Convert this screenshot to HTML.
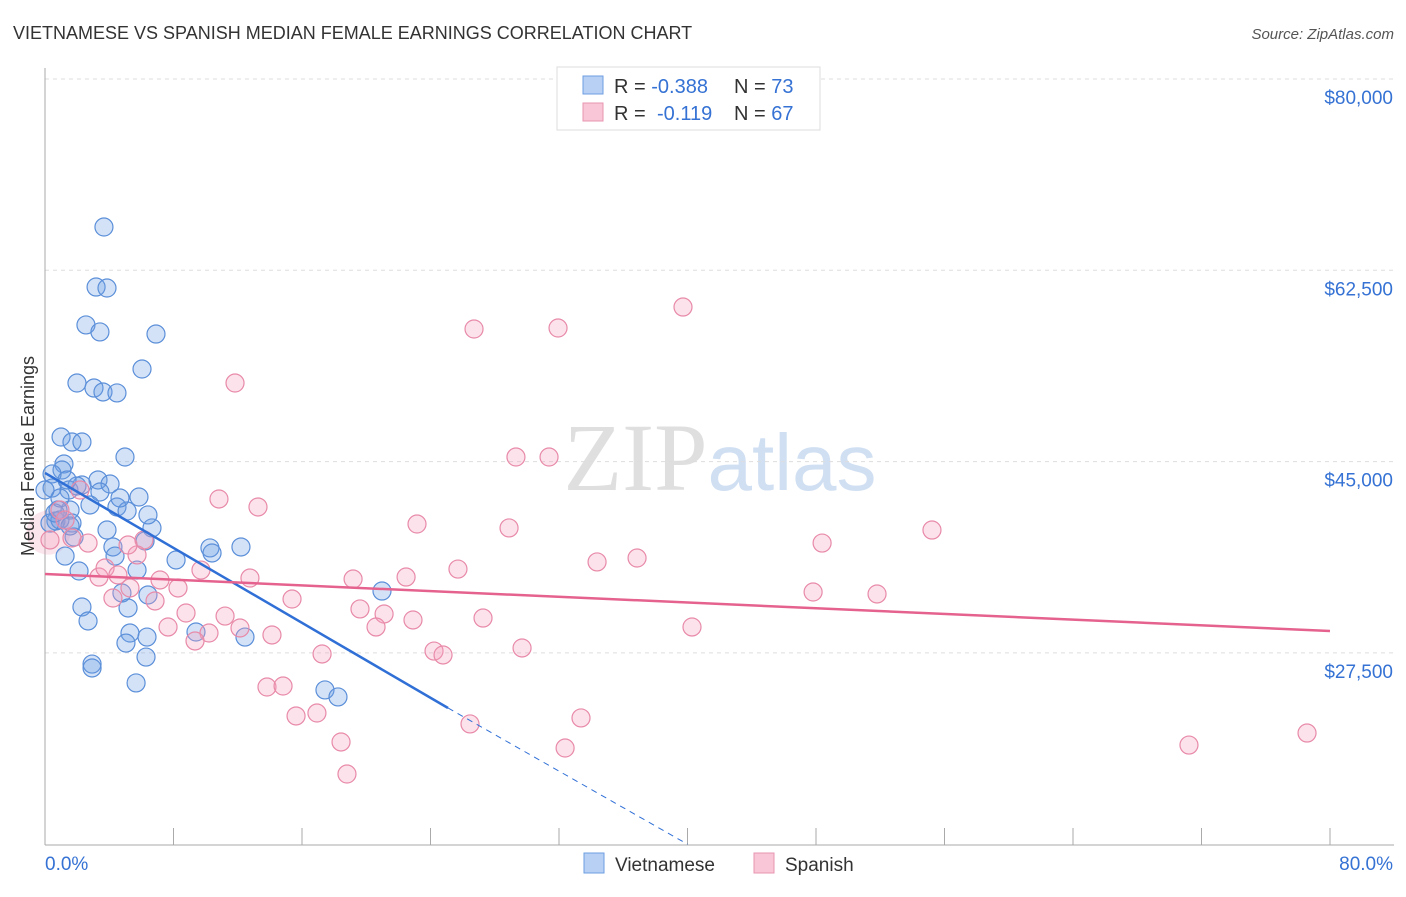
<!DOCTYPE html>
<html><head><meta charset="utf-8"><style>
body{margin:0;background:#fff;font-family:"Liberation Sans",sans-serif;}
svg text{font-family:"Liberation Sans",sans-serif;}
</style></head><body>
<svg id="chart" width="1406" height="892" viewBox="0 0 1406 892" xmlns="http://www.w3.org/2000/svg">
<text x="13" y="39" font-size="18" fill="#333">VIETNAMESE VS SPANISH MEDIAN FEMALE EARNINGS CORRELATION CHART</text>
<text x="1394" y="39" font-size="15" fill="#555" font-style="italic" text-anchor="end">Source: ZipAtlas.com</text>
<text x="720" y="490" font-size="96" text-anchor="middle" fill="#ddd" opacity="0.8"><tspan font-family="Liberation Serif" fill="#d8d8d8">ZIP</tspan><tspan fill="#c5d8f0" font-size="80">atlas</tspan></text>
<g id="grid"></g>
<g id="axes"></g>
<g id="pts"></g>
<g id="trends"></g>
<text transform="translate(34,456) rotate(-90)" font-size="18" fill="#333" text-anchor="middle">Median Female Earnings</text>
<g>
<rect x="557" y="67" width="263" height="63" fill="#fff" stroke="#ddd"/>
<rect x="583" y="76" width="20" height="18" fill="#b8d0f4" stroke="#6d9ee0"/>
<rect x="583" y="103" width="20" height="18" fill="#f8c6d6" stroke="#e895b0"/>
<text x="614" y="93" font-size="20" fill="#333">R = <tspan fill="#3572d4">-0.388</tspan><tspan x="734">N = </tspan><tspan fill="#3572d4">73</tspan></text>
<text x="614" y="120" font-size="20" fill="#333">R = <tspan x="657" fill="#3572d4">-0.119</tspan><tspan x="734">N = </tspan><tspan fill="#3572d4">67</tspan></text>
</g>
<g>
<rect x="584" y="853" width="20" height="20" fill="#b8d0f4" stroke="#6d9ee0"/>
<text x="615" y="871" font-size="19" fill="#333">Vietnamese</text>
<rect x="754" y="853" width="20" height="20" fill="#f8c6d6" stroke="#e895b0"/>
<text x="785" y="871" font-size="19" fill="#333">Spanish</text>
</g>
</svg>
<script>
const yTicks=[27500,45000,62500,80000];
const yTickLabels=["$27,500","$45,000","$62,500","$80,000"];
const xEndLabels=["0.0%","80.0%"];
const vietX=[3.67,3.18,3.86,2.55,3.42,6.91,6.04,1.99,3.05,3.61,4.48,1.00,1.68,2.30,4.98,1.18,1.06,0.44,3.30,4.05,1.49,2.30,1.99,5.85,0.44,3.42,2.80,4.48,5.11,1.56,0.81,0.68,1.68,6.66,1.25,1.81,4.23,6.23,10.27,12.20,10.40,8.16,4.36,2.12,5.73,20.98,6.41,4.79,2.30,5.17,2.68,5.29,9.40,6.35,5.04,12.45,6.29,2.93,2.93,5.67,17.43,18.24,0.93,0.31,0.62,0.93,0.0,1.37,1.56,4.67,6.41,3.86];
const vietY=[66.46,60.97,60.88,57.50,56.86,56.67,53.47,52.19,51.73,51.37,51.28,47.25,46.79,46.79,45.42,44.78,44.23,43.87,43.32,42.95,42.40,42.86,42.77,41.76,42.58,42.22,41.03,40.85,40.48,40.57,40.57,39.57,39.38,38.93,36.36,38.10,37.19,37.74,37.10,37.19,36.64,36.00,36.36,34.99,35.08,33.16,32.80,32.98,31.70,31.61,30.42,29.32,29.41,28.95,28.40,28.95,27.12,26.48,26.12,24.75,24.11,23.47,39.66,39.38,40.30,41.67,42.40,43.32,39.11,41.67,40.12,38.74];
const spanX=[39.72,26.71,31.94,11.83,29.32,31.38,10.83,13.26,23.16,28.89,55.22,48.38,34.37,36.86,6.16,5.73,2.68,25.71,22.48,19.18,12.76,7.16,8.28,9.71,3.36,5.29,4.23,6.85,15.38,47.82,51.80,19.61,21.11,8.78,11.21,22.91,27.27,7.66,20.61,10.21,14.13,12.14,40.28,9.34,17.25,24.22,24.78,29.70,13.82,14.82,15.63,16.93,26.46,33.37,18.43,32.38,18.80,71.22,78.57,0.93,0.31,1.68,3.74,4.54,5.17,2.18,1.25];
const spanY=[59.14,57.13,57.22,52.19,45.42,45.42,41.58,40.85,39.29,38.93,38.74,37.55,35.82,36.18,37.83,36.46,37.55,35.17,34.44,34.26,34.35,34.17,33.44,35.08,34.44,33.44,32.52,32.25,32.43,33.07,32.89,31.52,31.06,31.15,30.87,30.51,30.69,29.87,29.87,29.32,29.14,29.78,29.87,28.59,27.40,27.67,27.31,27.95,24.38,24.47,21.73,22.00,21.00,21.55,19.35,18.80,16.42,19.07,20.17,40.57,37.83,38.01,35.27,34.63,37.37,42.40,39.66];
const vietTrend=[0,43.96,25.09,22.46,40,10.0];
const spanTrend=[0,34.72,80,29.50];
const NS="http://www.w3.org/2000/svg";
const X=p=>45+p/80*1285;
const Y=v=>79+(80-v)/17.5*191.3;
function mk(tag,attrs,parent){const e=document.createElementNS(NS,tag);for(const k in attrs)e.setAttribute(k,attrs[k]);parent.appendChild(e);return e;}
const grid=document.getElementById('grid'),axes=document.getElementById('axes'),pts=document.getElementById('pts'),tr=document.getElementById('trends');
yTicks.forEach((t,i)=>{const y=Y(t/1000);
const l=mk('line',{x1:45,x2:1394,y1:y,y2:y,stroke:'#ddd','stroke-dasharray':'4,4'},grid);


const tx=mk('text',{x:1393,y:y+25,'font-size':19,fill:'#3572d4','text-anchor':'end'},axes);
tx.textContent=yTickLabels[i];

});
const ya=mk('line',{x1:45,x2:45,y1:68,y2:845,stroke:'#aaa'},axes);


const xa=mk('line',{x1:45,x2:1394,y1:845,y2:845,stroke:'#aaa'},axes);


for(let p=8;p<=80;p+=8){const t=mk('line',{x1:X(p),x2:X(p),y1:828,y2:845,stroke:'#aaa'},axes);

}
const xl0=mk('text',{x:45,y:870,'font-size':19,fill:'#3572d4'},axes);xl0.textContent=xEndLabels[0];


const xl1=mk('text',{x:1393,y:870,'font-size':19,fill:'#3572d4','text-anchor':'end'},axes);xl1.textContent=xEndLabels[1];


const big=mk('circle',{cx:X(0.2),cy:Y(38.5),r:22,fill:'rgba(240,150,180,0.25)',stroke:'none'},pts);


vietX.forEach((x,i)=>{const c=mk('circle',{cx:X(x),cy:Y(vietY[i]),r:9,fill:'rgba(110,160,230,0.3)',stroke:'#5b8fd9','stroke-width':1.2},pts);

});
spanX.forEach((x,i)=>{const c=mk('circle',{cx:X(x),cy:Y(spanY[i]),r:9,fill:'rgba(245,160,190,0.3)',stroke:'#e88aa8','stroke-width':1.2},pts);

});
const vt=mk('line',{x1:X(vietTrend[0]),y1:Y(vietTrend[1]),x2:X(vietTrend[2]),y2:Y(vietTrend[3]),stroke:'#2f6fd6','stroke-width':2.5},tr);


const vd=mk('line',{x1:X(vietTrend[2]),y1:Y(vietTrend[3]),x2:X(vietTrend[4]),y2:Y(vietTrend[5]),stroke:'#2f6fd6','stroke-width':1,'stroke-dasharray':'6,5'},tr);


const st=mk('line',{x1:X(spanTrend[0]),y1:Y(spanTrend[1]),x2:X(spanTrend[2]),y2:Y(spanTrend[3]),stroke:'#e5628e','stroke-width':2.5},tr);


</script>
</body></html>
